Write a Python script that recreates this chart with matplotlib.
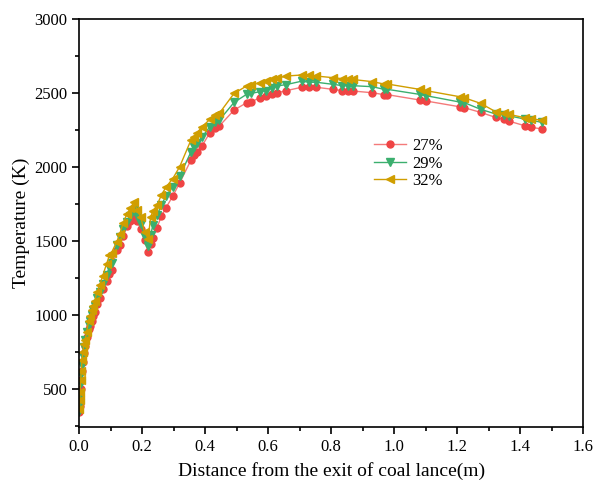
import matplotlib
matplotlib.use('Agg')
import matplotlib.pyplot as plt
from matplotlib.ticker import MultipleLocator

plt.rcParams['font.family'] = ['Liberation Serif', 'DejaVu Serif']
plt.rcParams['mathtext.fontset'] = 'stix'

# distance from lance exit (m)
distance = [0.001, 0.002, 0.003, 0.005, 0.007, 0.009, 0.012, 0.015, 0.019, 0.024,
            0.03, 0.035, 0.04, 0.045, 0.05, 0.056, 0.065, 0.075, 0.087, 0.096,
            0.103, 0.119, 0.129, 0.14, 0.152, 0.163, 0.174, 0.185, 0.195, 0.208,
            0.219, 0.227, 0.234, 0.247, 0.261, 0.275, 0.297, 0.319, 0.355, 0.365,
            0.375, 0.39, 0.415, 0.43, 0.445, 0.492, 0.532, 0.546, 0.574, 0.592,
            0.613, 0.629, 0.657, 0.706, 0.731, 0.753, 0.806, 0.836, 0.853, 0.868,
            0.931, 0.968, 0.979, 1.081, 1.102, 1.209, 1.223, 1.275, 1.323, 1.349,
            1.365, 1.415, 1.435, 1.468]

temp_27 = [340, 380, 430, 500, 560, 620, 680, 740, 790, 850,
           900, 920, 960, 990, 1020, 1070, 1110, 1170, 1230, 1275,
           1300, 1435, 1470, 1530, 1597, 1630, 1660, 1630, 1581, 1502,
           1422, 1480, 1520, 1588, 1664, 1720, 1800, 1890, 2044, 2078,
           2100, 2140, 2230, 2260, 2275, 2383, 2433, 2439, 2466, 2478,
           2491, 2500, 2514, 2537, 2537, 2537, 2523, 2514, 2512, 2512,
           2500, 2487, 2487, 2451, 2444, 2405, 2399, 2367, 2333, 2320,
           2308, 2277, 2266, 2256]

temp_29 = [350, 400, 460, 540, 600, 660, 720, 780, 830, 880,
           930, 960, 1000, 1030, 1060, 1110, 1150, 1210, 1270, 1320,
           1350, 1470, 1524, 1580, 1626, 1670, 1705, 1670, 1615, 1524,
           1461, 1540, 1603, 1671, 1739, 1800, 1863, 1935, 2100, 2130,
           2160, 2200, 2270, 2300, 2315, 2435, 2490, 2496, 2507, 2514,
           2534, 2546, 2555, 2578, 2571, 2571, 2557, 2548, 2548, 2548,
           2541, 2523, 2523, 2489, 2480, 2437, 2433, 2388, 2356, 2349,
           2344, 2322, 2315, 2300]

temp_32 = [360, 420, 480, 560, 620, 690, 750, 800, 830, 880,
           959, 990, 1032, 1060, 1095, 1150, 1197, 1264, 1343, 1400,
           1420, 1490, 1547, 1620, 1683, 1720, 1762, 1705, 1660, 1560,
           1513, 1660, 1700, 1739, 1807, 1860, 1919, 1999, 2180, 2200,
           2230, 2270, 2320, 2350, 2361, 2496, 2546, 2553, 2568, 2582,
           2591, 2598, 2613, 2620, 2618, 2613, 2602, 2595, 2592, 2590,
           2575, 2559, 2559, 2523, 2514, 2473, 2466, 2428, 2371, 2360,
           2354, 2331, 2324, 2315]

labels = ['27%', '29%', '32%']

fig = plt.figure(figsize=(5.95, 4.82), dpi=100)
ax = fig.add_axes([0.133, 0.114, 0.847, 0.847])

ax.plot(distance, temp_27, color='#F47A7A', lw=1.0, marker='o', ms=5,
        mfc='#EF4444', mec='#EF4444', label=labels[0])
ax.plot(distance, temp_29, color='#3BAF6E', lw=1.0, marker='v', ms=5.5,
        mfc='#3BAF6E', mec='#3BAF6E', label=labels[1])
ax.plot(distance, temp_32, color='#D09E00', lw=1.0, marker='<', ms=5.5,
        mfc='#D09E00', mec='#D09E00', label=labels[2])

ax.set_xlim(0, 1.6)
ax.set_ylim(240, 3000)
ax.xaxis.set_minor_locator(MultipleLocator(0.1))
ax.yaxis.set_minor_locator(MultipleLocator(250))
ax.set_xticks([0.0, 0.2, 0.4, 0.6, 0.8, 1.0, 1.2, 1.4, 1.6])
ax.set_yticks([500, 1000, 1500, 2000, 2500, 3000])
ax.xaxis.set_major_formatter(matplotlib.ticker.FormatStrFormatter('%.1f'))

ax.tick_params(which='major', direction='out', length=5, width=1.2, labelsize=12)
ax.tick_params(which='minor', direction='out', length=3, width=1.2)
for s in ax.spines.values():
    s.set_linewidth(1.2)

ax.set_xlabel('Distance from the exit of coal lance(m)', fontsize=14, labelpad=5)
ax.set_ylabel('Temperature (K)', fontsize=14, labelpad=3)

ax.legend(loc='upper left', bbox_to_anchor=(0.555, 0.745), frameon=False,
          fontsize=12, handlelength=1.9, handletextpad=0.4, labelspacing=0.1)

fig.savefig('out.png', dpi=100)
